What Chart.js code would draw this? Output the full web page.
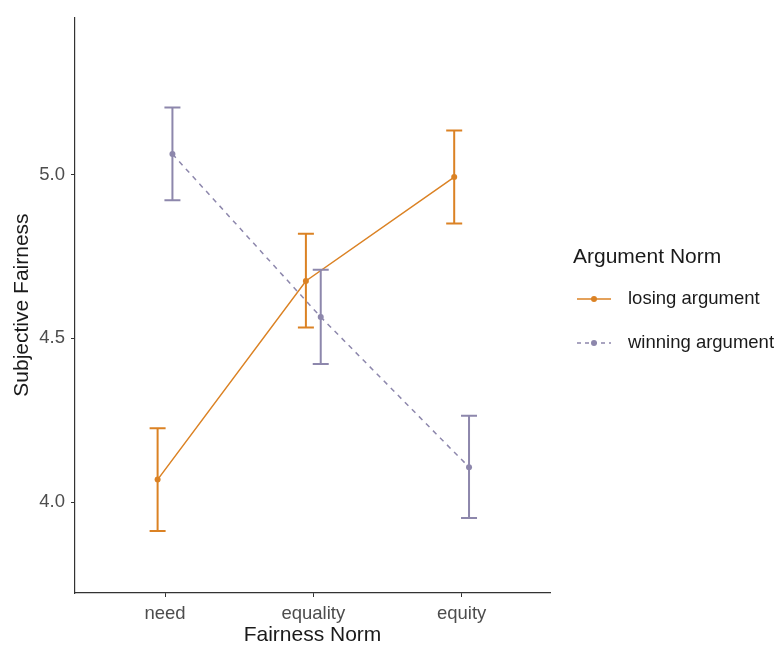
<!DOCTYPE html>
<html>
<head>
<meta charset="utf-8">
<script src="https://cdn.jsdelivr.net/npm/chart.js@4"></script>
<style>
html,body{margin:0;padding:0;background:#fff;}
#wrap{position:relative;width:779px;height:646px;}
</style>
</head>
<body>
<div id="wrap"><canvas id="c" width="779" height="646"></canvas></div>
<script>
const categories = ['need', 'equality', 'equity'];
const seriesNames = ['losing argument', 'winning argument'];
const losingMean  = [4.069, 4.675, 4.992];
const losingLower = [3.912, 4.533, 4.850];
const losingUpper = [4.226, 4.819, 5.134];
const winningMean  = [5.062, 4.565, 4.107];
const winningLower = [4.921, 4.422, 3.952];
const winningUpper = [5.204, 4.709, 4.264];
const yTicks = [4.0, 4.5, 5.0];
const xTitle = 'Fairness Norm';
const yTitle = 'Subjective Fairness';
const legendTitle = 'Argument Norm';

const ORANGE = '#DB8224';
const PURPLE = '#8D87AC';
const DODGE = 0.05;
const FONT = "'Liberation Sans', Arial, sans-serif";

function pts(means, off) { return means.map((v, i) => ({ x: i + off, y: v })); }

const errorBars = [
  { mean: losingMean, lo: losingLower, hi: losingUpper, off: -DODGE, color: ORANGE },
  { mean: winningMean, lo: winningLower, hi: winningUpper, off: DODGE, color: PURPLE }
];

const errorPlugin = {
  id: 'errbars',
  afterDatasetsDraw(chart) {
    const ctx = chart.ctx, xs = chart.scales.x, ys = chart.scales.y;
    ctx.save();
    errorBars.forEach(s => {
      ctx.strokeStyle = s.color;
      ctx.lineWidth = 2;
      ctx.setLineDash([]);
      s.mean.forEach((m, i) => {
        const x = xs.getPixelForValue(i + s.off);
        const y1 = ys.getPixelForValue(s.lo[i]);
        const y2 = ys.getPixelForValue(s.hi[i]);
        ctx.beginPath();
        ctx.moveTo(x, y1); ctx.lineTo(x, y2);
        ctx.moveTo(x - 8, y1); ctx.lineTo(x + 8, y1);
        ctx.moveTo(x - 8, y2); ctx.lineTo(x + 8, y2);
        ctx.stroke();
      });
    });
    ctx.restore();
  }
};

const legendPlugin = {
  id: 'customLegend',
  afterDraw(chart) {
    const ctx = chart.ctx;
    ctx.save();
    ctx.fillStyle = '#1a1a1a';
    ctx.font = '21px ' + FONT;
    ctx.textBaseline = 'middle';
    ctx.textAlign = 'left';
    ctx.fillText(legendTitle, 573, 257);
    const items = [
      { y: 299, color: ORANGE, dash: [] },
      { y: 343, color: PURPLE, dash: [4, 4] }
    ];
    items.forEach((it, k) => {
      ctx.strokeStyle = it.color;
      ctx.lineWidth = 1.5;
      ctx.setLineDash(it.dash);
      ctx.beginPath();
      ctx.moveTo(577, it.y); ctx.lineTo(611, it.y);
      ctx.stroke();
      ctx.setLineDash([]);
      ctx.fillStyle = it.color;
      ctx.beginPath(); ctx.arc(594, it.y, 3, 0, Math.PI * 2); ctx.fill();
      ctx.fillStyle = '#1a1a1a';
      ctx.font = '18.5px ' + FONT;
      ctx.fillText(seriesNames[k], 628, it.y);
    });
    ctx.restore();
  }
};

new Chart(document.getElementById('c'), {
  type: 'line',
  data: {
    datasets: [
      { label: seriesNames[0], data: pts(losingMean, -DODGE), borderColor: ORANGE, backgroundColor: ORANGE,
        borderWidth: 1.5, pointRadius: 3, pointHoverRadius: 3, pointBorderWidth: 0, tension: 0 },
      { label: seriesNames[1], data: pts(winningMean, DODGE), borderColor: PURPLE, backgroundColor: PURPLE,
        borderWidth: 1.5, borderDash: [5, 5], pointRadius: 3, pointHoverRadius: 3, pointBorderWidth: 0, tension: 0 }
    ]
  },
  options: {
    responsive: false,
    animation: false,
    layout: { padding: { left: 0, top: 15, right: 229, bottom: 0 } },
    plugins: { legend: { display: false }, tooltip: { enabled: false } },
    scales: {
      x: {
        type: 'linear', min: -0.607, max: 2.596,
        afterBuildTicks: s => { s.ticks = categories.map((c, i) => ({ value: i })); },
        afterFit: s => { s.height = 53; },
        grid: { display: true, drawOnChartArea: false, drawTicks: true, tickLength: 4, color: '#333', lineWidth: 1 },
        border: { display: true, color: '#333', width: 1.2 },
        ticks: { callback: v => categories[v], color: '#4D4D4D', font: { family: FONT, size: 18.5 }, padding: 6, maxRotation: 0 },
        title: { display: true, text: xTitle, color: '#1a1a1a', font: { family: FONT, size: 21, lineHeight: 1 }, padding: { top: 0, bottom: 0 } }
      },
      y: {
        type: 'linear', min: 3.723, max: 5.48,
        afterBuildTicks: s => { s.ticks = yTicks.map(v => ({ value: v })); },
        afterFit: s => { s.width = 75; },
        grid: { display: true, drawOnChartArea: false, drawTicks: true, tickLength: 4, color: '#333', lineWidth: 1 },
        border: { display: true, color: '#333', width: 1.2 },
        ticks: { callback: v => v.toFixed(1), color: '#4D4D4D', font: { family: FONT, size: 18.5 }, padding: 6 },
        title: { display: true, text: yTitle, color: '#1a1a1a', font: { family: FONT, size: 21, lineHeight: 1 }, padding: { top: 12, bottom: 0 } }
      }
    }
  },
  plugins: [errorPlugin, legendPlugin]
});
</script>
</body>
</html>
